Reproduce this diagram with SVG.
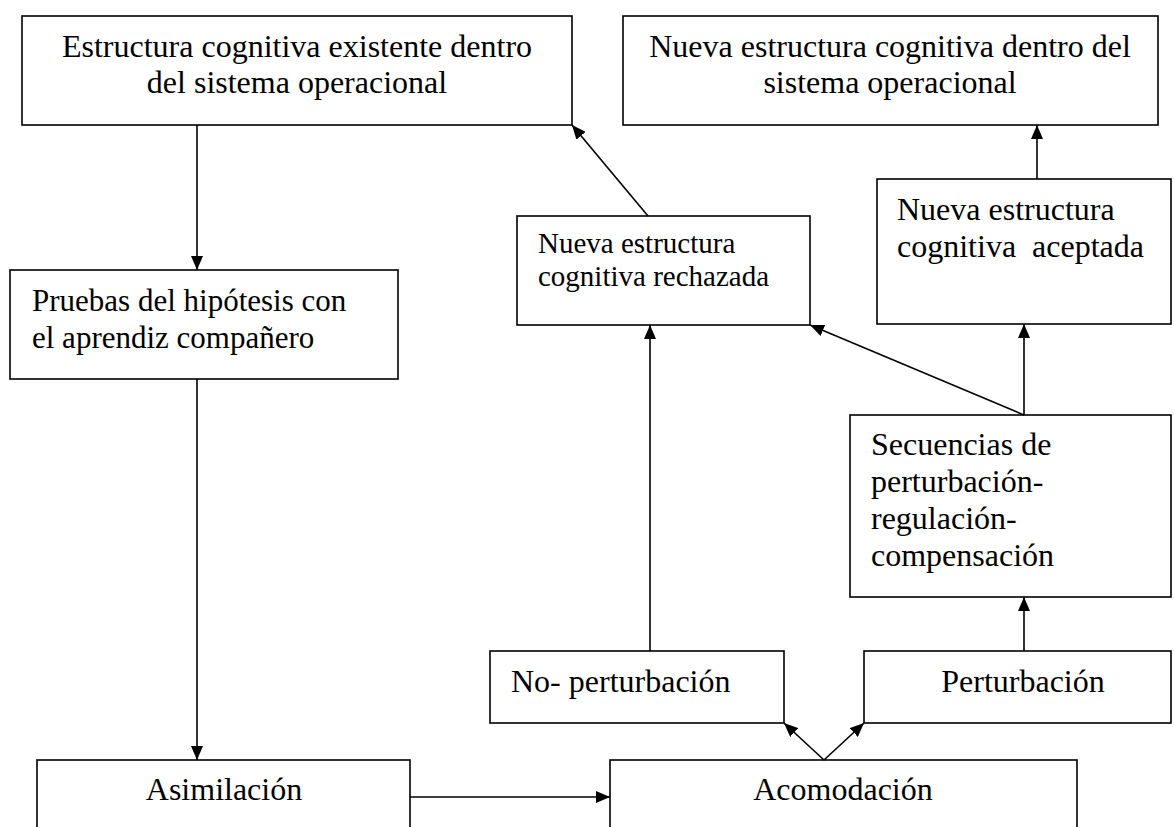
<svg xmlns="http://www.w3.org/2000/svg" width="1174" height="827" viewBox="0 0 1174 827">
<style>
.box{fill:#fff;stroke:#000;stroke-width:1.6}
.t{font-family:"Liberation Serif","Times New Roman",serif;font-size:32px;fill:#000}
.c{text-anchor:middle}
.conn{stroke:#000;stroke-width:1.6;fill:none;marker-end:url(#ah)}
</style>
<defs>
<marker id="ah" markerUnits="userSpaceOnUse" markerWidth="15" markerHeight="12" refX="14" refY="6" orient="auto">
<path d="M0,0 L14,6 L0,12 z" fill="#000"/>
</marker>
</defs>
<rect width="1174" height="827" fill="#fff"/>
<g id="n-existente">
<rect class="box" x="22" y="16" width="550" height="109"/>
<text class="t c" x="297" y="57">Estructura cognitiva existente dentro</text>
<text class="t c" x="297" y="93">del sistema operacional</text>
</g>
<g id="n-nueva-dentro">
<rect class="box" x="623" y="16" width="535" height="109"/>
<text class="t c" x="890" y="57">Nueva estructura cognitiva dentro del</text>
<text class="t c" x="890" y="93">sistema operacional</text>
</g>
<g id="n-pruebas">
<rect class="box" x="10" y="270" width="388" height="109"/>
<text class="t" x="32" y="311" style="font-size:31px">Pruebas del hipótesis con</text>
<text class="t" x="32" y="348" style="font-size:31px">el aprendiz compañero</text>
</g>
<g id="n-rechazada">
<rect class="box" x="517" y="216" width="293" height="109"/>
<text class="t" x="538" y="253" style="font-size:29px">Nueva estructura</text>
<text class="t" x="538" y="286" style="font-size:29px">cognitiva rechazada</text>
</g>
<g id="n-aceptada">
<rect class="box" x="877" y="179" width="294" height="145"/>
<text class="t" x="897" y="220">Nueva estructura</text>
<text class="t" x="897" y="257" xml:space="preserve">cognitiva  aceptada</text>
</g>
<g id="n-secuencias">
<rect class="box" x="850" y="415" width="321" height="182"/>
<text class="t" x="871" y="455">Secuencias de</text>
<text class="t" x="871" y="492">perturbación-</text>
<text class="t" x="871" y="529">regulación-</text>
<text class="t" x="871" y="566">compensación</text>
</g>
<g id="n-noperturbacion">
<rect class="box" x="490" y="651" width="294" height="72"/>
<text class="t" x="511" y="692">No- perturbación</text>
</g>
<g id="n-perturbacion">
<rect class="box" x="864" y="651" width="307" height="72"/>
<text class="t c" x="1023" y="692">Perturbación</text>
</g>
<g id="n-asimilacion">
<rect class="box" x="37" y="760" width="373" height="90"/>
<text class="t c" x="224" y="800">Asimilación</text>
</g>
<g id="n-acomodacion">
<rect class="box" x="610" y="760" width="467" height="90"/>
<text class="t c" x="843" y="800">Acomodación</text>
</g>
<g id="connectors">
<line class="conn" x1="197" y1="125" x2="197" y2="270"/>
<line class="conn" x1="197" y1="379" x2="197" y2="760"/>
<line class="conn" x1="410" y1="797" x2="610" y2="797"/>
<line class="conn" x1="824" y1="760" x2="784" y2="723"/>
<line class="conn" x1="824" y1="760" x2="864" y2="723"/>
<line class="conn" x1="650" y1="651" x2="650" y2="325"/>
<line class="conn" x1="1024" y1="651" x2="1024" y2="597"/>
<line class="conn" x1="1024" y1="415" x2="1024" y2="324"/>
<line class="conn" x1="1024" y1="415" x2="810" y2="325"/>
<line class="conn" x1="648" y1="216" x2="572" y2="125"/>
<line class="conn" x1="1037" y1="179" x2="1037" y2="125"/>
</g>
</svg>
